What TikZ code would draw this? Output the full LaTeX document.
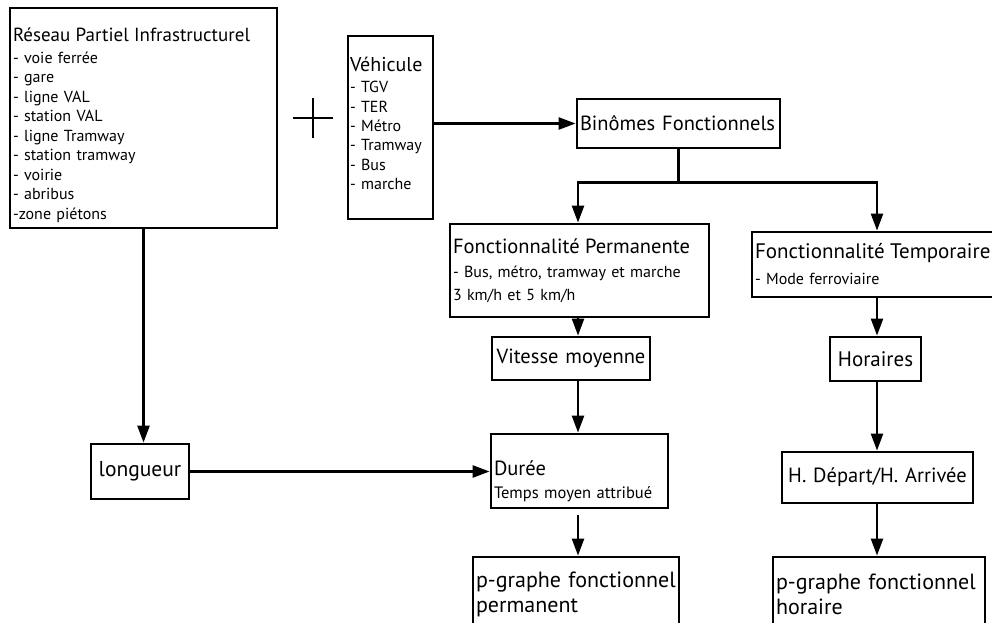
\documentclass[tikz,border=0pt]{standalone}
\usepackage{fontspec}
\setmainfont{PT Sans}
\usetikzlibrary{arrows.meta}

\newcommand{\boxtitle}{\fontsize{20.5}{24}\selectfont}
\newcommand{\boxitem}{\fontsize{16}{19.5}\selectfont}

\begin{document}
\begin{tikzpicture}[x=1pt, y=-1pt,
    box/.style={draw, line width=2.8pt, inner xsep=3pt, inner ysep=0pt, align=left, font=\boxtitle},
    flow/.style={line width=2.4pt, -{Triangle[length=17pt,width=12pt]}}]
    \useasboundingbox (0,0) rectangle (992,623);
    \clip (0,0) rectangle (992,623);

    % inputs
    \node[box, text width=261pt, minimum height=220, font=\boxitem] (reseau) at (143.5,118) {\rule{0pt}{28pt}{\fontsize{19}{22}\selectfont Réseau Partiel Infrastructurel}\\[2pt] - voie ferrée\\ - gare\\ - ligne VAL\\ - station VAL\\ - ligne Tramway\\ - station tramway\\ - voirie\\ - abribus\\ -zone piétons};
    \node[box, text width=81pt, inner xsep=2pt, minimum height=183, font=\fontsize{16}{19.3}\selectfont] (vehicule) at (390.5,127.5) {{\fontsize{20}{22}\selectfont Véhicule}\\[2.5pt] - TGV\\ - TER\\ - Métro\\ - Tramway\\ - Bus\\ - marche\rule[-9pt]{0pt}{9pt}};
    \draw[line width=2pt] (293,118) -- (333,118) (313,98) -- (313,138);

    \node[box, text width=197pt, minimum height=49] (binomes) at (678.5,123.5) {Binômes Fonctionnels};

    % permanent branch
    \node[box, text width=253pt, minimum height=93, font=\fontsize{16}{23}\selectfont] (perm) at (579.5,270.5) {{\boxtitle Fonctionnalité Permanente}\\[1pt] - Bus, métro, tramway et marche\\ 3 km/h et 5 km/h};
    \node[box, text width=152pt, align=center, minimum height=43] (vitesse) at (571,358.5) {Vitesse moyenne};
    \node[box, text width=92pt, align=center, minimum height=55, font=\fontsize{21.5}{24}\selectfont] (longueur) at (140,471.5) {longueur};
    \node[box, text width=171pt, minimum height=74, font=\fontsize{16.5}{19.5}\selectfont] (duree) at (579.5,471) {\rule{0pt}{35pt}{\boxtitle Durée}\\[3.5pt] Temps moyen attribué};
    \node[box, text width=200pt, minimum height=74, font=\fontsize{22}{25}\selectfont] (ppermanent) at (576,594) {p-graphe fonctionnel\\ permanent};

    % temporary branch
    \node[box, text width=244pt, minimum height=65, font=\boxitem] (temp) at (877,264.5) {{\fontsize{21}{24}\selectfont Fonctionnalité Temporaire}\\[6.5pt] - Mode ferroviaire};
    \node[box, text width=85pt, align=center, minimum height=44, font=\fontsize{21}{24}\selectfont] (horaires) at (875.5,359) {Horaires};
    \node[box, text width=185pt, align=center, minimum height=51] (hdepart) at (877.5,477.5) {H. Départ/H. Arrivée};
    \node[box, text width=206pt, minimum height=74, font=\fontsize{22}{25}\selectfont] (phoraire) at (879,594) {p-graphe fonctionnel\\ horaire};

    \coordinate (colA) at (578,0);
    \coordinate (colB) at (877,0);

    \draw[flow] (vehicule.east |- binomes.west) -- (binomes.west);
    \draw[line width=2.4pt] (binomes.south) -- ++(0,33) coordinate (split);
    \draw[flow] (split) -| (perm.north -| colA);
    \draw[flow] (split) -| (temp.north -| colB);
    \draw[flow] (perm.south -| colA) -- (vitesse.north -| colA);
    \draw[flow] (vitesse.south -| colA) -- (duree.north -| colA);
    \draw[flow, shorten <=6pt] (duree.south -| colA) -- (ppermanent.north -| colA);
    \draw[flow] (reseau.south) -- (reseau.south |- longueur.north);
    \draw[flow] (longueur.east) -- (longueur.east -| duree.west);
    \draw[flow] (temp.south -| colB) -- (horaires.north -| colB);
    \draw[flow] (horaires.south -| colB) -- (hdepart.north -| colB);
    \draw[flow] (hdepart.south -| colB) -- (phoraire.north -| colB);
\end{tikzpicture}
\end{document}
